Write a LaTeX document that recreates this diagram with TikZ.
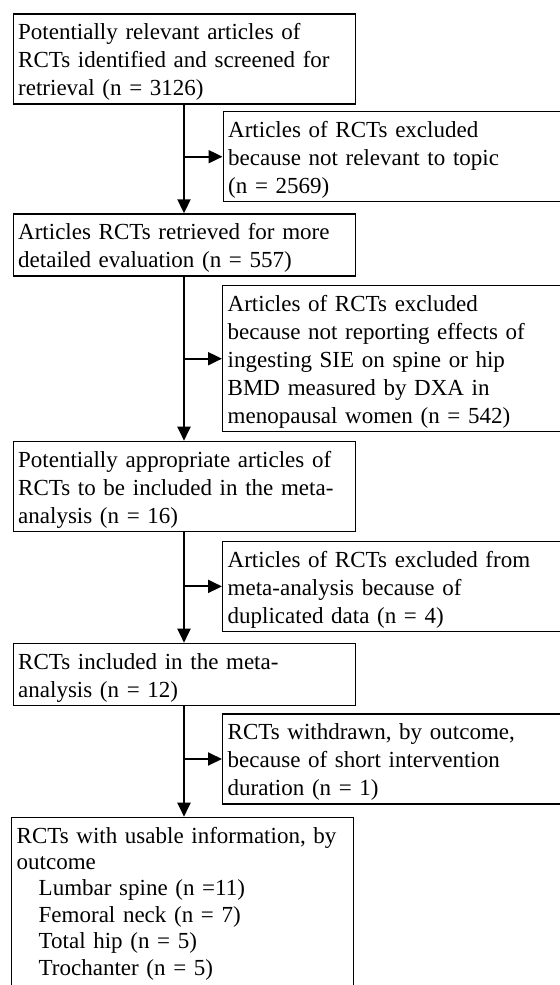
\documentclass[tikz,border=0pt]{standalone}
\usepackage{fontspec}
\setmainfont{Liberation Serif}
\usetikzlibrary{arrows.meta}

\begin{document}
\begin{tikzpicture}[x=0.5pt,y=-0.5pt,
  stage/.style={draw,line width=0.7pt,anchor=north west,align=left,
    text width=166pt,inner xsep=2.5pt,inner ysep=1.7pt,text height=11.15pt,
    font=\fontsize{11.5}{14}\selectfont},
  excl/.style={stage,text width=220pt},
  flow/.style={line width=1pt,-{Triangle[length=7pt,width=6.5pt]}}]
  \clip[use as bounding box] (0,0) rectangle (560,985);
  \coordinate (trunk) at (184,0);
  % main column
  \node[stage] (found) at (12.5,13.3)
    {Potentially relevant articles of\\RCTs identified and screened for\\retrieval (n = 3126)};
  \node[stage] (retr) at (12.5,213.3)
    {Articles RCTs retrieved for more\\detailed evaluation (n = 557)};
  \node[stage] (approp) at (12.5,440.7)
    {Potentially appropriate articles of\\RCTs to be included in the meta-\\analysis (n = 16)};
  \node[stage] (incl) at (12.5,642.7)
    {RCTs included in the meta-\\analysis (n = 12)};
  \node[stage,font=\fontsize{11.5}{13.2}\selectfont] (usable) at (11,816.7)
    {RCTs with usable information, by\\outcome\\
     \hspace*{11pt}Lumbar spine (n =11)\\
     \hspace*{11pt}Femoral neck (n = 7)\\
     \hspace*{11pt}Total hip (n = 5)\\
     \hspace*{11pt}Trochanter (n = 5)\\ \mbox{}};
  % exclusions
  \node[excl] (offtopic) at (222.5,111)
    {Articles of RCTs excluded\\because not relevant to topic\\(n = 2569)};
  \node[excl] (noeffect) at (222,285)
    {Articles of RCTs excluded\\because not reporting effects of\\ingesting SIE on spine or hip\\BMD measured by DXA in\\menopausal women (n = 542)};
  \node[excl] (dupl) at (222,540.7)
    {Articles of RCTs excluded from\\meta-analysis because of\\duplicated data (n = 4)};
  \node[excl] (short) at (222,713.3)
    {RCTs withdrawn, by outcome,\\because of short intervention\\duration (n = 1)};
  % arrows
  \draw[flow] (found.south -| trunk) -- (retr.north -| trunk);
  \draw[flow] (retr.south -| trunk) -- (approp.north -| trunk);
  \draw[flow] (approp.south -| trunk) -- (incl.north -| trunk);
  \draw[flow] (incl.south -| trunk) -- (usable.north -| trunk);
  \draw[flow] (offtopic.west -| trunk) -- (offtopic.west);
  \draw[flow] (noeffect.west -| trunk) -- (noeffect.west);
  \draw[flow] (dupl.west -| trunk) -- (dupl.west);
  \draw[flow] (short.west -| trunk) -- (short.west);
\end{tikzpicture}
\end{document}
